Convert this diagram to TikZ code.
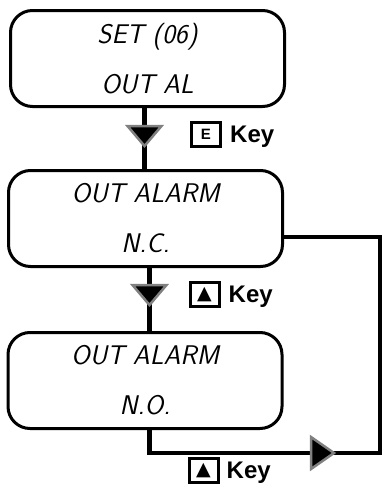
\documentclass[tikz,border=0pt]{standalone}
\usepackage{fontspec}
\newfontfamily\keyfont{Liberation Sans}
\newfontfamily\symfont{DejaVu Sans}
\usetikzlibrary{positioning}
\tikzset{
  lcd/.style={draw, line width=3pt, rounded corners=22pt, minimum width=274pt,
    minimum height=96pt, align=center,
    font=\fontsize{27}{50}\selectfont\sffamily\itshape},
  keybox/.style={draw, line width=3pt, minimum width=29pt, minimum height=24pt,
    inner sep=0pt},
  keytxt/.style={font=\keyfont\bfseries\fontsize{24}{24}\selectfont, inner sep=0pt,
    text height=16pt, text depth=0pt},
  conn/.style={line width=4.5pt},
  tri/.style={fill=black, draw=gray, line width=2.5pt, line join=miter},
  downtri/.pic={\draw[tri] (-17,-10) -- (17,-10) -- (0,10) -- cycle;},
  righttri/.pic={\draw[tri] (-11,-16) -- (-11,16) -- (12,0) -- cycle;}
}
\begin{document}
\begin{tikzpicture}[x=1pt, y=-1pt]
\useasboundingbox (0,0) rectangle (384,488);

% displays
\node[lcd] (setout) at (147.5,58.5) {SET (06)\\OUT AL};
\node[lcd] (alarmnc) at (145.5,218.5) {OUT ALARM\\N.C.};
\node[lcd] (alarmno) at (145,380.5) {OUT ALARM\\N.O.};

% marks on the lines
\coordinate (m1) at (144.5,136);
\coordinate (m2) at (149.5,295);
\coordinate (m3) at (322,453);
\coordinate (ret) at (380,237);

\draw[conn] (m1 |- setout.south) -- (m1 |- alarmnc.north);
\draw[conn] (m2 |- alarmnc.south) -- (m2 |- alarmno.north);
\draw[conn] (m2 |- alarmno.south) |- (m3) -| (ret) -- (ret -| alarmnc.east);

\pic at (m1) {downtri};
\pic at (m2) {downtri};
\pic at (m3) {righttri};

% keys
\node[keybox, font=\keyfont\bfseries\fontsize{15}{15}\selectfont] (ekey) at (206,134.5) {E};
\node[keytxt, right=8pt of ekey] (ekeytxt) {Key};
\node[keybox, font=\symfont\fontsize{19}{19}\selectfont] (upkey) at (204.5,294.5) {▲};
\node[keytxt, right=8pt of upkey] (upkeytxt) {Key};
\node[keybox, font=\symfont\fontsize{19}{19}\selectfont] (upkeyb) at (203.5,470.5) {▲};
\node[keytxt, right=7pt of upkeyb] (upkeybtxt) {Key};

\end{tikzpicture}
\end{document}
